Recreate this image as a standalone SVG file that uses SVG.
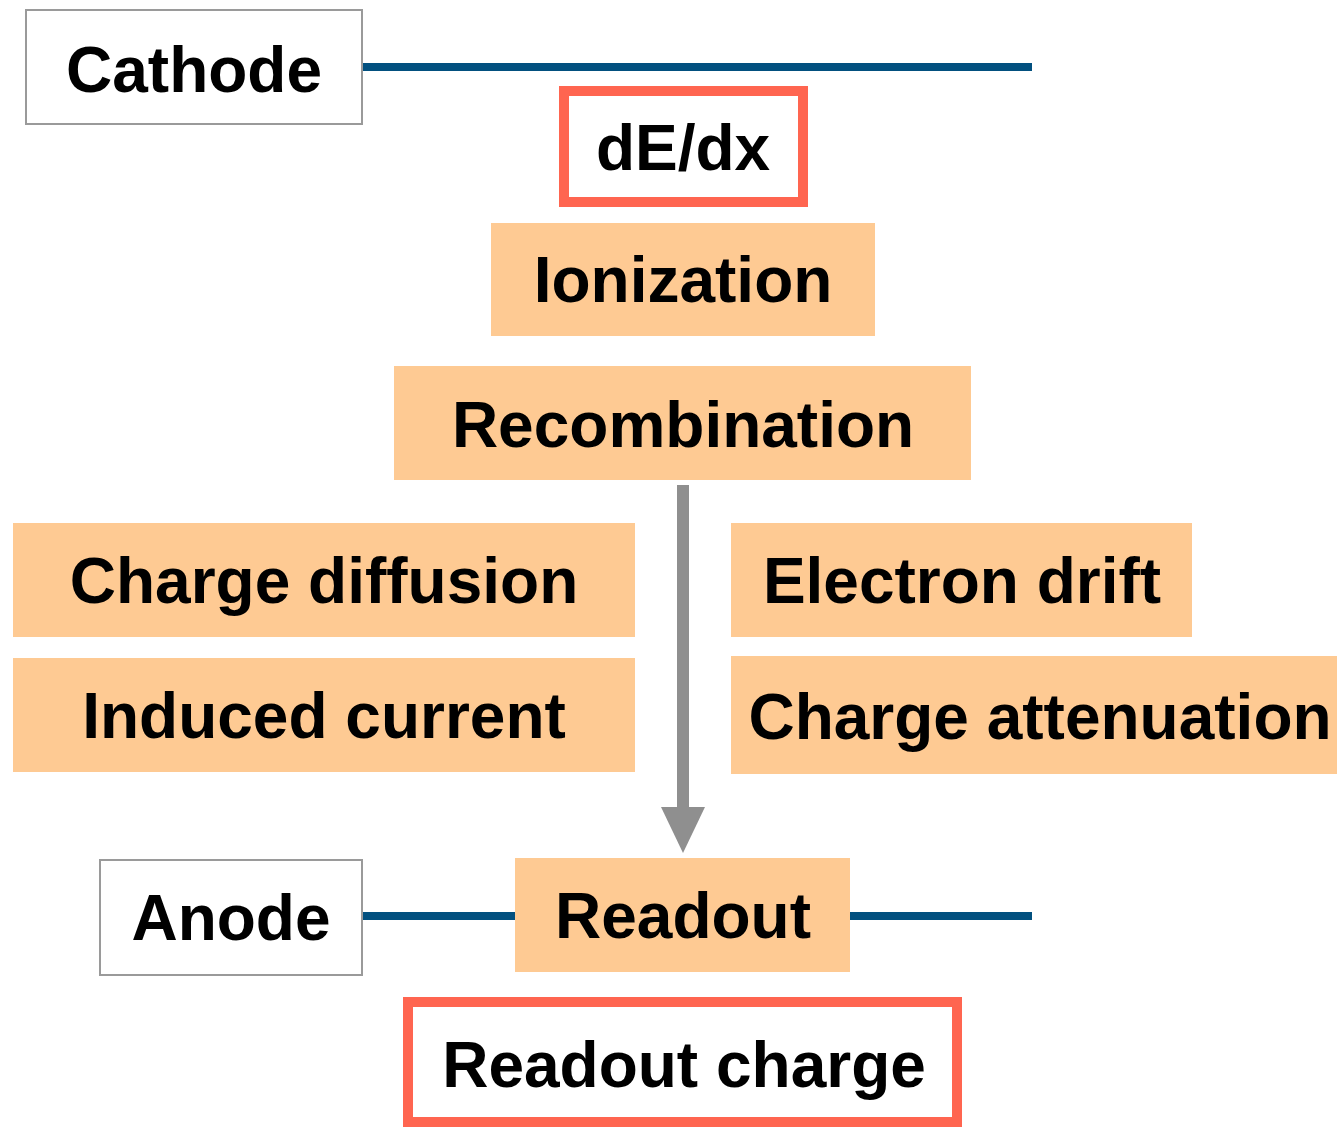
<svg xmlns="http://www.w3.org/2000/svg" width="1337" height="1127" viewBox="0 0 1337 1127">
<style>
.t{font-family:"Liberation Sans",Arial,Helvetica,sans-serif;font-weight:bold;font-size:64px;fill:#000;text-anchor:middle}
.step{fill:#FECA93}
.elec{fill:#fff;stroke:#9a9a9a;stroke-width:2}
.hl{fill:#fff;stroke:#FF6550;stroke-width:10}
.wire{stroke:#02507F;stroke-width:8;fill:none}
</style>
<defs>
<marker id="ah" markerUnits="userSpaceOnUse" markerWidth="46" markerHeight="44" refX="1" refY="22" orient="auto" viewBox="0 0 46 44">
<path d="M0 0L46 22L0 44Z" fill="#8F8F8F"/>
</marker>
</defs>
<rect width="1337" height="1127" fill="#fff"/>
<g id="connectors">
<line class="wire" x1="362" y1="67" x2="1032" y2="67"/>
<line class="wire" x1="362" y1="916" x2="516" y2="916"/>
<line class="wire" x1="849" y1="916" x2="1032" y2="916"/>
<line x1="683" y1="485" x2="683" y2="808" stroke="#8F8F8F" stroke-width="12" marker-end="url(#ah)"/>
</g>
<g id="cathode"><rect class="elec" x="26" y="10" width="336" height="114"/><text class="t" x="194" y="92">Cathode</text></g>
<g id="dedx"><rect class="hl" x="564" y="91" width="239" height="111"/><text class="t" x="683" y="170">dE/dx</text></g>
<g id="ionization"><rect class="step" x="491" y="223" width="384" height="113"/><text class="t" x="683" y="302">Ionization</text></g>
<g id="recombination"><rect class="step" x="394" y="366" width="577" height="114"/><text class="t" x="683" y="447">Recombination</text></g>
<g id="charge-diffusion"><rect class="step" x="13" y="523" width="622" height="114"/><text class="t" x="324" y="603">Charge diffusion</text></g>
<g id="induced-current"><rect class="step" x="13" y="658" width="622" height="114"/><text class="t" x="324" y="738">Induced current</text></g>
<g id="electron-drift"><rect class="step" x="731" y="523" width="461" height="114"/><text class="t" x="962" y="603">Electron drift</text></g>
<g id="charge-attenuation"><rect class="step" x="731" y="656" width="606" height="118"/><text class="t" x="1040" y="739">Charge attenuation</text></g>
<g id="anode"><rect class="elec" x="100" y="860" width="262" height="115"/><text class="t" x="231" y="940">Anode</text></g>
<g id="readout"><rect class="step" x="515" y="858" width="335" height="114"/><text class="t" x="683" y="938">Readout</text></g>
<g id="readout-charge"><rect class="hl" x="408" y="1002" width="549" height="120"/><text class="t" x="684" y="1087">Readout charge</text></g>
</svg>
